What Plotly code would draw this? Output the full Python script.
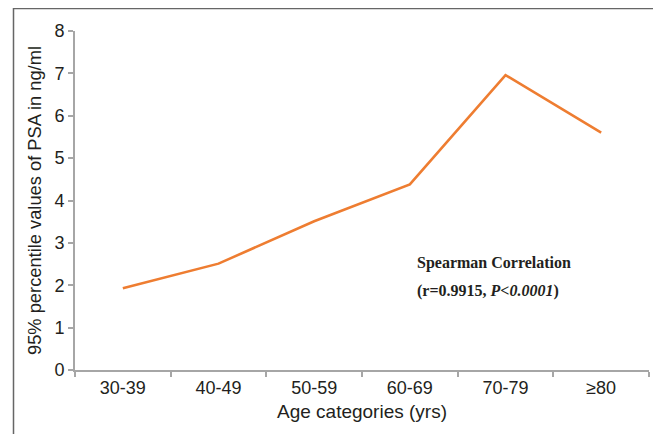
import plotly.graph_objects as go

categories = ["30-39", "40-49", "50-59", "60-69", "70-79", "≥80"]
psa_95 = [1.93, 2.51, 3.51, 4.38, 6.96, 5.60]
y_ticks = [0, 1, 2, 3, 4, 5, 6, 7, 8]

# page body has an 8px default margin; figure is drawn from (8, 8)
OFF = 8
W, H = 661 - OFF, 434 - OFF
L, R, T, B = 75 - OFF, 12, 31 - OFF, 64
pw, ph = W - L - R, H - T - B

def px(x):
    return (x - OFF - L) / pw

def py(y):
    return (H - B - (y - OFF)) / ph

fig = go.Figure()
fig.add_trace(go.Scatter(
    x=categories, y=psa_95, mode="lines",
    line=dict(color="#EE7D31", width=2.6),
    showlegend=False, hoverinfo="skip",
))

axis_col = "#A6A6A6"
font_sans = "Liberation Sans, Arial, sans-serif"

fig.update_layout(
    width=W, height=H,
    margin=dict(l=L, r=R, t=T, b=B),
    paper_bgcolor="white", plot_bgcolor="white",
    font=dict(family=font_sans, color="#231F20", size=18),
    xaxis=dict(
        type="category", tickson="boundaries", ticks="outside", ticklen=5,
        tickcolor=axis_col, tickwidth=2, showline=True, linecolor=axis_col, linewidth=2,
        showgrid=False, zeroline=False, range=[-0.5, 5.5],
        tickfont=dict(size=18),
        title=dict(text="Age categories (yrs)", font=dict(size=19), standoff=8),
    ),
    yaxis=dict(
        range=[0, 8], tickvals=y_ticks, ticks="outside", ticklen=5,
        tickcolor=axis_col, tickwidth=2, showline=True, linecolor=axis_col, linewidth=2,
        showgrid=False, zeroline=False, tickfont=dict(size=18),
        title=dict(text="95% percentile values of PSA in ng/ml", font=dict(size=18.3), standoff=8),
    ),
    shapes=[dict(
        type="rect", xref="paper", yref="paper",
        x0=px(13.5), x1=px(658.5), y0=py(450), y1=py(8.5),
        line=dict(color="#666666", width=1.5), fillcolor="rgba(0,0,0,0)", layer="below",
    )],
    annotations=[
        dict(text="<b>Spearman Correlation</b>", xref="paper", yref="paper",
             x=px(415), y=py(263), xanchor="left", yanchor="middle", showarrow=False,
             font=dict(family="Liberation Serif, Times New Roman, serif", size=16, color="#231F20")),
        dict(text="<b>(r=0.9915, <i>P<0.0001</i>)</b>", xref="paper", yref="paper",
             x=px(415), y=py(291), xanchor="left", yanchor="middle", showarrow=False,
             font=dict(family="Liberation Serif, Times New Roman, serif", size=16, color="#231F20")),
    ],
)

fig.write_html("out.html")
